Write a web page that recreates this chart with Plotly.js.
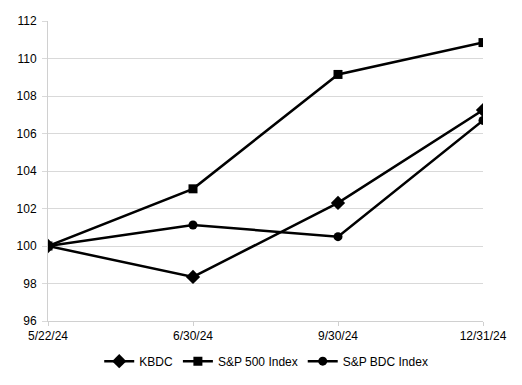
<!DOCTYPE html>
<html><head><meta charset="utf-8">
<script src="https://cdn.plot.ly/plotly-3.0.1.min.js"></script>
<style>html,body{margin:0;padding:0;background:#fff}#c{width:522px;height:385px}</style>
</head><body><div id="c"></div>
<script>
const dates = ["5/22/24", "6/30/24", "9/30/24", "12/31/24"];
const kbdc = [100, 98.35, 102.3, 107.25];
const sp500 = [100, 103.05, 109.15, 110.85];
const spbdc = [100, 101.12, 100.5, 106.7];
const yTicks = [96, 98, 100, 102, 104, 106, 108, 110, 112];

const mk = (name, y, sym, size) => ({
  x: dates, y: y, name: name, type: 'scatter', mode: 'lines+markers',
  line: {color: '#000', width: 2.5},
  marker: {symbol: sym, size: size, color: '#000'}
});
const data = [
  mk('KBDC', kbdc, 'diamond', 11),
  mk('S&P 500 Index', sp500, 'square', 9),
  mk('S&P BDC Index', spbdc, 'circle', 9)
];
const layout = {
  width: 522, height: 385,
  margin: {l: 48, r: 39, t: 21, b: 64},
  paper_bgcolor: '#fff', plot_bgcolor: '#fff',
  font: {family: 'Liberation Sans, Arial, sans-serif', size: 12, color: '#000'},
  showlegend: true,
  legend: {orientation: 'h', x: 0.51, xanchor: 'center', xref: 'container',
           y: 0.062, yanchor: 'middle', yref: 'container',
           font: {size: 12}, itemwidth: 30, tracegroupgap: 0},
  xaxis: {type: 'category', range: [0, 3], showgrid: false, showline: true,
          linecolor: '#d0d0d0', linewidth: 1, ticks: 'outside', ticklen: 4,
          tickcolor: '#d0d0d0', zeroline: false, tickfont: {size: 12}, automargin: false},
  yaxis: {range: [96, 112], tickvals: yTicks, showgrid: true, gridcolor: '#d9d9d9',
          gridwidth: 1, showline: true, linecolor: '#d0d0d0', ticks: 'outside',
          ticklen: 5, tickcolor: '#d9d9d9', zeroline: false, tickfont: {size: 12},
          ticklabelstandoff: 3, automargin: false}
};
Plotly.newPlot('c', data, layout, {staticPlot: true});
</script></body></html>
